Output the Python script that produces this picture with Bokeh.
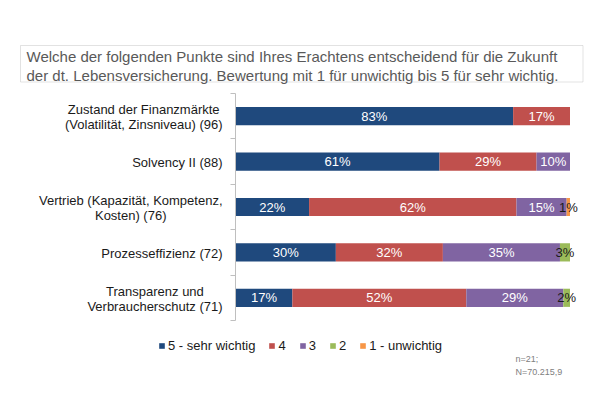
from bokeh.plotting import figure
from bokeh.models import Range1d, FixedTicker, Legend, LegendItem, Label, BoxAnnotation
from bokeh.core.properties import value
from bokeh.embed import file_html
from bokeh.resources import INLINE

categories = [
    "Zustand der Finanzmärkte\n(Volatilität, Zinsniveau) (96)",
    "Solvency II (88)",
    "Vertrieb (Kapazität, Kompetenz,\nKosten) (76)",
    "Prozesseffizienz (72)",
    "Transparenz und\nVerbraucherschutz (71)",
]
series_names = ["5 - sehr wichtig", "4", "3", "2", "1 - unwichtig"]
s5 = [83, 61, 22, 30, 17]
s4 = [17, 29, 62, 32, 52]
s3 = [0, 10, 15, 35, 29]
s2 = [0, 0, 0, 3, 2]
s1 = [0, 0, 1, 0, 0]
series = [s5, s4, s3, s2, s1]
colors = ["#1F497D", "#C0504D", "#8064A2", "#9BBB59", "#F79646"]
title_text = ("Welche der folgenden Punkte sind Ihres Erachtens entscheidend für die Zukunft\n"
              "der dt. Lebensversicherung. Bewertung mit 1 für unwichtig bis 5 für sehr wichtig.")
note_text = "n=21;\nN=70.215,9"

FONT = "Liberation Sans"
W, H = 584, 379
n = len(categories)
ys = [i + 0.5 for i in range(n)]

# pixel layout of the plotting area inside the canvas
PX_X0, PX_PER_PCT = 235.0, 3.345     # x pixel of 0 %, pixels per percent
PX_Y0, PX_PER_ROW = 93.0, 45.4       # y pixel of the top row boundary, pixels per row

x_range = Range1d(-PX_X0 / PX_PER_PCT, (W - PX_X0) / PX_PER_PCT)
y_range = Range1d((H - PX_Y0) / PX_PER_ROW, -PX_Y0 / PX_PER_ROW)

p = figure(width=W, height=H, output_backend="svg", toolbar_location=None,
           x_range=x_range, y_range=y_range, x_axis_location=None,
           min_border=0, min_border_left=0, min_border_right=0,
           min_border_top=0, min_border_bottom=0)
p.outline_line_color = None
p.xgrid.visible = False
p.ygrid.visible = False

# category axis: line and separator ticks between the rows
ax = p.yaxis[0]
ax.fixed_location = 0
ax.bounds = (0, n)
ax.ticker = FixedTicker(ticks=[], minor_ticks=list(range(n + 1)))
ax.major_tick_out = 0
ax.major_tick_in = 0
ax.minor_tick_out = 5
ax.minor_tick_in = 0
ax.axis_line_color = "#BFBFBF"
ax.minor_tick_line_color = "#BFBFBF"

# category labels: right-aligned block, centred lines
p.text(x=[0] * n, y=ys, text=categories, x_offset=-13, y_offset=1, anchor="center_right",
       text_align="center", text_baseline="middle", text_line_height=0.97,
       text_font=value(FONT), text_font_size="13px", text_color="#1A1A1A")

items = []
lefts = [0] * n
for name, vals, col in zip(series_names, series, colors):
    rights = [l + v for l, v in zip(lefts, vals)]
    r = p.hbar(y=ys, left=lefts, right=rights, height=0.4, fill_color=col, line_color=None)
    items.append(LegendItem(label=name, renderers=[r]))
    lx, ly, lt, lc = [], [], [], []
    for i, v in enumerate(vals):
        if v > 0:
            lx.append((lefts[i] + rights[i]) / 2)
            ly.append(ys[i])
            lt.append(f"{v}%")
            lc.append("#FFFFFF" if v >= 5 else "#1A1A1A")
    p.text(x=lx, y=ly, text=lt, text_color=lc, text_align="center", text_baseline="middle",
           text_font=value(FONT), text_font_size="13px")
    lefts = rights

legend = Legend(items=items, orientation="horizontal", location=(158, 26),
                glyph_width=7, glyph_height=7, label_standoff=3, spacing=13,
                label_width=0, label_height=14, padding=0, margin=0,
                border_line_color=None, background_fill_alpha=0,
                label_text_font=FONT, label_text_font_size="13px", label_text_color="#1A1A1A")
p.add_layout(legend)

# boxed question text (screen units: from the canvas' bottom-left)
p.add_layout(BoxAnnotation(left=20, right=582.5, top=H - 45, bottom=H - 81.5,
                           left_units="screen", right_units="screen",
                           top_units="screen", bottom_units="screen",
                           fill_color=None, fill_alpha=0, line_color="#A0A0A0", line_width=1,
                           level="annotation"))
p.add_layout(Label(x=26, y=H - 65.5, x_units="screen", y_units="screen", text=title_text,
                   text_font=FONT, text_font_size="15px", text_color="#595959",
                   text_baseline="middle", text_align="left", text_line_height=1.1))
p.add_layout(Label(x=515, y=H - 353, x_units="screen", y_units="screen", text=note_text,
                   text_font=FONT, text_font_size="9px", text_color="#808080",
                   text_baseline="top", text_align="left", text_line_height=1.3))

open("out.html", "w").write(file_html(p, INLINE))
